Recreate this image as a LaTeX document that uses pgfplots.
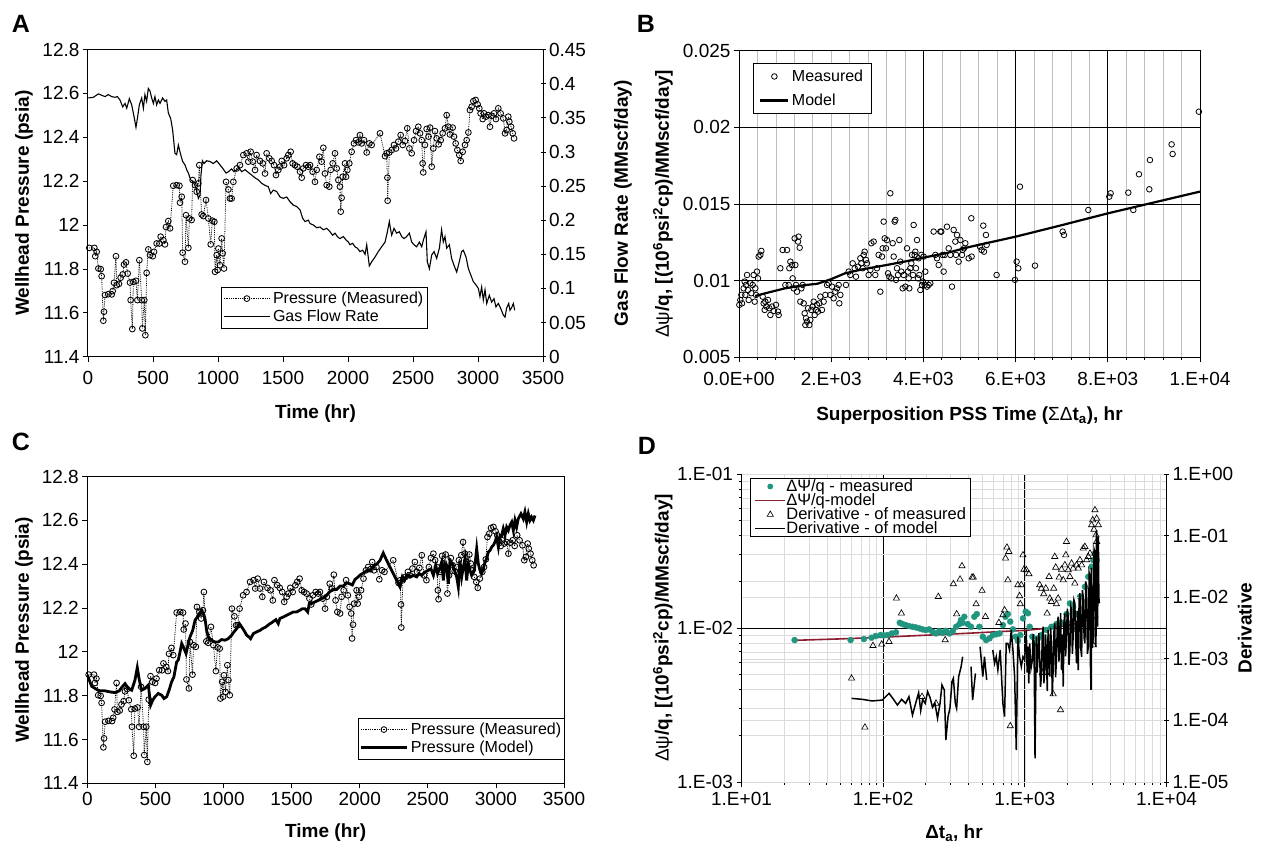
\documentclass[border=0pt]{standalone}
\usepackage{fontspec}
\setmainfont{Liberation Sans}
\usepackage{pgfplots}
\usepackage{pgfplotstable}
\pgfplotsset{compat=1.18}

\definecolor{teal2}{RGB}{32,150,128}
\definecolor{dred}{RGB}{140,28,48}

\newcommand{\tf}{\fontsize{19}{19}\selectfont}
\newcommand{\lf}{\fontsize{19}{19}\selectfont\bfseries}
\newcommand{\gf}{\fontsize{16}{17}\selectfont}

\pgfplotsset{
  base/.style={scale only axis, anchor=south west,
    axis line style={line width=1pt},
    tick style={line width=0.8pt, black},
    major tick length=5pt, minor tick length=3pt,
    tick align=outside,
    tick label style={font=\tf},
    label style={font=\lf},
    scaled ticks=false,
    legend cell align=left,
  },
  leg/.style={legend image code/.code={\draw[mark repeat=2,mark phase=2,##1] plot coordinates {(0pt,0pt) (#1/2,0pt) (#1,0pt)};}},
  pstyle/.style={black, densely dotted, line width=0.8pt, mark=o, mark size=2.9pt, mark options={solid, line width=0.85pt}},
}

\pgfplotstableread{
t p
10 11.896
49 11.896
56 11.858
67 11.878
80 11.802
98 11.799
105 11.767
118 11.564
123 11.605
131 11.681
156 11.685
182 11.684
190 11.699
200 11.737
215 11.858
221 11.726
238 11.732
251 11.760
267 11.775
277 11.820
292 11.830
305 11.779
323 11.738
328 11.658
341 11.526
349 11.741
369 11.746
380 11.658
395 11.840
413 11.658
418 11.529
433 11.658
441 11.498
451 11.782
464 11.889
477 11.863
498 11.858
508 11.878
528 11.916
549 11.916
559 11.947
580 11.931
592 11.912
600 11.991
618 12.018
631 11.985
656 12.179
682 12.182
703 12.179
708 12.102
721 12.129
728 11.874
746 11.833
754 12.045
772 11.896
780 12.030
797 12.023
805 12.205
823 12.182
836 12.152
849 12.190
856 12.273
874 12.048
887 12.041
908 12.114
926 12.030
944 11.912
956 12.020
972 12.015
977 11.787
990 11.863
997 11.795
1003 11.893
1015 11.817
1028 11.939
1036 11.871
1046 11.802
1062 12.197
1080 12.162
1092 12.121
1105 12.121
1118 12.197
1144 12.258
1169 12.273
1195 12.319
1221 12.327
1233 12.289
1251 12.334
1267 12.289
1285 12.251
1297 12.319
1323 12.292
1344 12.281
1362 12.235
1374 12.327
1395 12.304
1413 12.292
1431 12.273
1446 12.228
1464 12.251
1477 12.266
1490 12.292
1508 12.273
1528 12.304
1541 12.319
1559 12.334
1574 12.281
1592 12.273
1610 12.266
1631 12.243
1644 12.216
1656 12.258
1677 12.273
1695 12.266
1708 12.273
1728 12.243
1746 12.197
1759 12.251
1780 12.311
1797 12.289
1810 12.352
1823 12.235
1836 12.182
1856 12.175
1867 12.251
1882 12.281
1900 12.327
1913 12.258
1926 12.205
1938 12.175
1944 12.061
1951 12.124
1959 12.220
1977 12.281
1985 12.220
1995 12.251
2010 12.281
2028 12.334
2046 12.372
2062 12.387
2079 12.377
2092 12.410
2105 12.372
2123 12.387
2144 12.331
2164 12.372
2182 12.365
2246 12.418
2285 12.314
2297 12.327
2303 12.216
2305 12.111
2318 12.331
2336 12.342
2354 12.365
2369 12.349
2387 12.380
2405 12.410
2421 12.365
2438 12.383
2456 12.441
2472 12.349
2490 12.327
2508 12.387
2523 12.428
2541 12.448
2554 12.418
2567 12.387
2574 12.281
2579 12.240
2592 12.365
2605 12.438
2620 12.403
2631 12.444
2644 12.266
2656 12.349
2669 12.428
2682 12.395
2697 12.368
2713 12.387
2728 12.418
2746 12.441
2759 12.501
2772 12.448
2784 12.413
2805 12.444
2815 12.403
2828 12.372
2841 12.342
2856 12.319
2867 12.292
2882 12.334
2900 12.365
2913 12.387
2926 12.422
2938 12.524
2951 12.539
2964 12.565
2982 12.570
2997 12.550
3010 12.532
3020 12.509
3036 12.483
3046 12.509
3061 12.494
3079 12.501
3092 12.448
3105 12.498
3123 12.509
3138 12.483
3156 12.532
3174 12.509
3195 12.486
3208 12.418
3220 12.433
3233 12.494
3241 12.471
3254 12.448
3267 12.418
3277 12.395
}\pressure

\pgfplotstableread{
t q
2 0.379
41 0.380
80 0.385
105 0.383
131 0.381
156 0.384
182 0.381
208 0.380
226 0.381
246 0.376
267 0.366
285 0.371
298 0.364
318 0.378
336 0.369
354 0.352
369 0.336
380 0.349
395 0.369
413 0.379
426 0.364
438 0.384
451 0.374
464 0.393
477 0.389
490 0.379
503 0.371
515 0.381
528 0.369
541 0.376
554 0.371
574 0.379
592 0.374
605 0.376
618 0.357
636 0.349
651 0.332
669 0.298
682 0.296
695 0.310
713 0.296
728 0.286
746 0.281
759 0.274
772 0.269
790 0.259
810 0.256
831 0.247
849 0.232
862 0.237
869 0.266
880 0.287
892 0.283
913 0.287
938 0.286
964 0.283
990 0.287
1015 0.281
1036 0.276
1062 0.269
1080 0.271
1105 0.275
1123 0.271
1144 0.274
1164 0.276
1182 0.271
1208 0.274
1233 0.270
1259 0.266
1285 0.262
1310 0.259
1336 0.254
1362 0.251
1387 0.249
1405 0.239
1426 0.244
1451 0.242
1477 0.234
1503 0.232
1528 0.234
1554 0.227
1580 0.222
1605 0.220
1631 0.215
1651 0.203
1669 0.198
1695 0.200
1708 0.195
1733 0.193
1759 0.189
1785 0.190
1810 0.186
1836 0.188
1862 0.183
1882 0.178
1900 0.181
1918 0.176
1938 0.173
1964 0.176
1985 0.171
2003 0.168
2015 0.164
2036 0.166
2054 0.161
2072 0.159
2092 0.154
2113 0.156
2131 0.150
2144 0.164
2164 0.133
2182 0.139
2208 0.146
2233 0.154
2259 0.161
2285 0.168
2303 0.183
2318 0.198
2328 0.186
2336 0.178
2354 0.188
2374 0.181
2395 0.183
2413 0.176
2431 0.173
2451 0.176
2472 0.181
2490 0.168
2508 0.164
2528 0.161
2549 0.168
2567 0.161
2580 0.171
2600 0.183
2610 0.139
2626 0.129
2644 0.149
2662 0.154
2682 0.144
2703 0.159
2720 0.186
2733 0.168
2746 0.176
2759 0.159
2780 0.164
2797 0.144
2815 0.134
2836 0.124
2856 0.139
2874 0.154
2887 0.156
2908 0.146
2926 0.129
2944 0.120
2964 0.110
2985 0.105
3003 0.100
3015 0.088
3028 0.102
3041 0.083
3054 0.098
3067 0.078
3087 0.090
3105 0.080
3123 0.085
3138 0.073
3156 0.078
3174 0.071
3195 0.061
3208 0.058
3220 0.071
3236 0.078
3246 0.068
3259 0.072
3272 0.078
3282 0.068
}\flow

\pgfplotstableread{
t p
0 11.894
32 11.843
69 11.828
93 11.822
130 11.822
167 11.817
203 11.814
235 11.822
252 11.837
277 11.855
301 11.833
326 11.825
350 11.871
367 11.928
382 11.871
399 11.825
424 11.833
448 11.848
465 11.757
480 11.779
497 11.795
521 11.810
546 11.802
563 11.787
583 11.795
602 11.828
619 11.863
636 11.886
656 11.954
668 11.962
681 12.000
693 12.038
705 12.023
725 11.992
742 12.038
754 12.068
774 12.098
791 12.144
808 12.159
822 12.174
840 12.190
852 12.174
864 12.152
876 12.098
888 12.068
913 12.053
937 12.045
962 12.045
986 12.056
1011 12.053
1035 12.060
1060 12.076
1077 12.091
1097 12.106
1116 12.129
1133 12.114
1150 12.098
1170 12.076
1187 12.068
1199 12.060
1219 12.083
1243 12.091
1268 12.098
1287 12.106
1312 12.114
1336 12.126
1361 12.136
1385 12.147
1402 12.129
1414 12.152
1439 12.159
1464 12.167
1488 12.174
1513 12.182
1537 12.182
1561 12.190
1581 12.197
1598 12.197
1618 12.182
1630 12.220
1647 12.220
1672 12.228
1696 12.235
1720 12.243
1745 12.250
1782 12.275
1806 12.285
1831 12.285
1855 12.300
1880 12.300
1904 12.315
1929 12.310
1946 12.305
1965 12.330
1985 12.340
2002 12.350
2027 12.360
2051 12.370
2076 12.370
2100 12.390
2125 12.400
2149 12.417
2173 12.451
2198 12.417
2222 12.387
2247 12.357
2271 12.326
2296 12.296
2313 12.342
2328 12.326
2345 12.349
2369 12.342
2394 12.349
2418 12.342
2435 12.357
2455 12.349
2479 12.364
2504 12.372
2523 12.379
2541 12.349
2558 12.395
2572 12.357
2590 12.387
2602 12.410
2614 12.326
2626 12.402
2638 12.395
2651 12.311
2663 12.417
2680 12.402
2695 12.372
2712 12.342
2724 12.296
2736 12.417
2749 12.342
2761 12.387
2773 12.425
2785 12.326
2798 12.402
2810 12.372
2822 12.349
2842 12.372
2859 12.471
2871 12.402
2883 12.372
2895 12.357
2908 12.379
2920 12.410
2932 12.425
2944 12.455
2957 12.463
2969 12.478
2981 12.486
2993 12.501
3005 12.524
3018 12.478
3030 12.531
3042 12.531
3054 12.562
3067 12.531
3079 12.569
3091 12.554
3103 12.577
3116 12.592
3128 12.554
3140 12.600
3152 12.569
3164 12.607
3184 12.630
3201 12.607
3213 12.638
3226 12.592
3238 12.630
3250 12.600
3262 12.615
3275 12.600
3287 12.622
}\modelC

\pgfplotstableread{
x y
7 0.00842
29 0.00874
51 0.00907
65 0.00852
101 0.00950
123 0.00994
137 0.00907
152 0.00972
174 0.01037
195 0.00939
210 0.00874
246 0.00983
268 0.00918
296 0.00972
318 0.01037
340 0.00863
354 0.00950
369 0.00907
390 0.01059
412 0.01015
427 0.01157
463 0.01168
484 0.01194
513 0.00896
535 0.00852
557 0.00809
571 0.00863
593 0.00831
629 0.00874
658 0.00820
680 0.00776
716 0.00831
752 0.00802
803 0.00842
846 0.00798
860 0.00776
897 0.01081
947 0.01200
1005 0.00972
1041 0.01200
1077 0.00972
1092 0.01081
1113 0.01124
1150 0.01102
1164 0.01015
1186 0.00950
1207 0.01276
1222 0.01102
1236 0.00972
1258 0.00928
1280 0.01255
1294 0.01287
1316 0.01215
1330 0.00863
1352 0.00950
1381 0.00972
1403 0.00852
1424 0.00787
1439 0.00711
1453 0.00755
1475 0.00733
1497 0.00820
1526 0.00711
1547 0.00744
1569 0.00809
1598 0.00831
1620 0.00863
1641 0.00776
1670 0.00809
1692 0.00842
1714 0.00798
1743 0.00852
1764 0.00896
1800 0.00809
1836 0.00863
1873 0.00907
1909 0.00972
1945 0.00983
1981 0.00907
2017 0.00961
2053 0.00885
2090 0.00928
2126 0.00950
2162 0.00972
2176 0.00852
2198 0.00907
2321 0.00972
2379 0.01059
2415 0.01037
2466 0.01113
2509 0.01081
2538 0.01026
2581 0.01091
2632 0.01146
2653 0.01113
2682 0.01081
2704 0.01168
2726 0.01189
2755 0.01135
2776 0.01113
2812 0.01037
2849 0.01070
2870 0.01244
2921 0.01255
2957 0.01037
2993 0.01081
3029 0.01168
3065 0.00928
3102 0.01157
3116 0.01211
3138 0.01385
3160 0.01276
3188 0.01211
3210 0.01265
3232 0.01048
3261 0.01026
3282 0.01570
3304 0.01015
3333 0.01244
3355 0.01157
3376 0.01385
3391 0.01396
3405 0.01005
3427 0.01081
3449 0.01037
3478 0.01265
3499 0.01124
3521 0.01059
3550 0.00950
3572 0.01037
3608 0.00961
3644 0.01211
3666 0.01059
3680 0.01015
3694 0.00950
3716 0.01081
3738 0.01113
3752 0.01168
3774 0.01037
3788 0.01363
3810 0.01168
3825 0.01189
3839 0.01081
3861 0.01265
3883 0.01015
3897 0.01146
3911 0.01037
3933 0.00939
3955 0.01168
3969 0.00972
3984 0.00994
4005 0.01157
4027 0.00972
4041 0.01059
4078 0.00961
4114 0.00972
4150 0.00983
4222 0.01320
4258 0.01168
4295 0.01146
4331 0.01102
4367 0.01320
4388 0.01320
4417 0.01168
4439 0.01059
4461 0.01168
4511 0.01352
4548 0.01211
4584 0.01168
4620 0.00961
4656 0.01331
4692 0.01255
4707 0.01168
4728 0.01298
4764 0.01124
4801 0.01265
4837 0.01168
4851 0.01200
4880 0.01211
4909 0.01244
4981 0.01146
5039 0.01407
5046 0.01157
5227 0.01222
5263 0.01200
5299 0.01359
5314 0.01189
5357 0.01298
5371 0.01233
5588 0.01037
5986 0.01005
6022 0.01124
6058 0.01081
6094 0.01613
6420 0.01098
7020 0.01320
7049 0.01298
7577 0.01461
8032 0.01548
8061 0.01570
8444 0.01574
8553 0.01461
8676 0.01694
8900 0.01596
8914 0.01787
9384 0.01889
9406 0.01826
9975 0.02102
}\Bmeas

\pgfplotstableread{
x y
350 0.0090
600 0.0092
1000 0.0095
1400 0.0097
1700 0.0098
2000 0.0101
2300 0.01048
2700 0.01075
3200 0.01102
3600 0.01125
4000 0.0115
4500 0.0118
5000 0.0122
6000 0.01287
7000 0.01362
8000 0.01439
9000 0.01510
10000 0.01581
}\Bmodel

\pgfplotstableread{
x y
23.7 0.00835
58.9 0.00835
73.2 0.00848
82.8 0.00865
88.4 0.00887
95.9 0.00900
101 0.00895
107 0.00900
115 0.00922
123 0.00937
131 0.01082
137 0.01061
144 0.01045
152 0.01030
161 0.01019
170 0.01009
180 0.00995
190 0.00980
200 0.00971
211 0.00980
223 0.00946
236 0.00922
249 0.00955
263 0.00931
277 0.00960
293 0.00922
310 0.00955
327 0.01019
345 0.01061
354 0.01127
364 0.01082
374 0.01184
395 0.01061
417 0.01019
440 0.01184
458 0.01232
478 0.01019
505 0.00878
533 0.00835
563 0.00857
594 0.00900
628 0.00910
663 0.00922
700 0.01045
731 0.01184
759 0.01232
789 0.01101
824 0.00980
861 0.00878
893 0.00826
929 0.00900
970 0.01155
1014 0.01277
1052 0.01247
1082 0.01019
1130 0.00878
1175 0.00794
1239 0.00857
1309 0.00900
1419 0.00971
1541 0.01019
1671 0.01061
1815 0.01082
1968 0.01232
2080 0.01445
2193 0.01374
2317 0.01232
2449 0.01596
2655 0.01853
2805 0.02152
2958 0.02499
3041 0.02760
3126 0.03052
3214 0.02760
}\Dgreen

\pgfplotstableread{
x y
23.7 0.00832
50 0.00850
100 0.00872
200 0.00898
400 0.00925
700 0.00950
1000 0.00965
1500 0.0100
2000 0.0104
2500 0.0109
3000 0.0115
3300 0.0118
}\Dmodel

\pgfplotstableread{
x y
59.8 4.82e-4
74.3 7.73e-5
84.7 1.63e-3
97.6 1.72e-3
110 1.90e-3
124 9.59e-3
134.5 5.47e-3
188 2.43e-4
236 1.89e-4
245 1.02e-2
274 2.02e-3
313 1.64e-2
330 5.33e-3
349 1.95e-2
360 3.21e-2
424 2.10e-2
433 2.10e-2
453 7.76e-3
499 1.28e-2
527 4.83e-3
656 3.86e-3
700 5.14e-3
719 6.19e-3
731 4.28e-2
747 6.45e-2
759 1.90e-2
771 5.49e-2
789 8.11e-5
893 1.58e-2
918 1.05e-2
929 7.76e-3
944 1.58e-2
970 4.84e-2
986 2.83e-2
1024 2.77e-2
1069 2.38e-2
1273 1.58e-2
1309 1.39e-2
1331 5.96e-4
1359 1.13e-2
1405 1.39e-2
1405 5.96e-4
1436 5.47e-3
1483 2.15e-2
1500 9.59e-3
1541 8.47e-3
1584 2.68e-4
1600 1.39e-2
1626 4.55e-2
1652 3.05e-2
1671 7.76e-3
1718 9.59e-3
1746 2.10e-2
1786 1.48e-4
1815 2.83e-2
1866 1.90e-2
1916 3.33e-2
1947 4.84e-2
1968 7.98e-2
2023 2.77e-2
2080 2.15e-2
2138 3.55e-2
2193 2.94e-2
2254 1.68e-2
2317 3.33e-2
2382 2.94e-2
2449 4.02e-2
2517 3.33e-2
2582 6.21e-2
2655 6.61e-2
2729 4.02e-2
2805 4.55e-2
2884 5.15e-2
2958 0.1486
3013 0.179
3041 1.67e-3
3076 0.126
3126 0.261
3126 5.15e-2
3177 0.102
3214 0.190
3214 7.98e-2
3304 0.149
}\Dtri

\pgfplotstableread{
x y
59.8 2.28e-4
71.1 2.20e-4
83.7 2.07e-4
98.6 2.14e-4
110 2.75e-4
117 2.28e-4
126 1.78e-4
135 2.20e-4
144 1.89e-4
152 2.43e-4
161 1.22e-4
170 1.94e-4
178 2.82e-4
184 1.44e-4
190 2.20e-4
198 1.89e-4
206 2.93e-4
214 2.37e-4
223 1.63e-4
232 1.89e-4
242 1.08e-4
252 1.89e-4
260 3.76e-4
270 3.12e-4
277 4.81e-5
287 1.15e-4
296 1.57e-4
306 4.26e-4
313 4.82e-4
323 1.89e-4
330 1.57e-4
341 5.13e-4
355 7.46e-4
364 1.08e-3
nan nan
417 7.46e-4
428 2.14e-4
448 5.81e-4
nan nan
483 1.57e-3
505 5.13e-4
519 1.08e-3
538 4.53e-4
nan nan
594 1.39e-3
611 8.45e-4
628 1.08e-3
645 6.58e-4
670 1.39e-3
700 1.89e-4
719 1.15e-4
739 1.78e-3
759 1.78e-3
780 1.39e-3
802 2.94e-3
824 1.39e-3
847 5.13e-4
870 3.31e-5
893 2.29e-3
918 1.08e-3
944 7.46e-4
970 1.08e-3
997 9.57e-4
1024 2.94e-3
1038 6e-4
1052 1.57e-3
1066 4e-4
1082 1.78e-3
1105 7e-4
1130 9.57e-4
1145 2.5e-3
1161 1.78e-3
1180 2.42e-5
1205 2.29e-3
1222 6e-4
1239 1.08e-3
1256 2.6e-3
1273 1.08e-3
1290 3.5e-4
1309 5.13e-4
1327 2.2e-3
1346 3.33e-3
1363 4e-4
1381 6.58e-4
1400 2.5e-3
1419 1.23e-3
1440 3e-4
1459 2.94e-3
1480 1.2e-3
1500 5.13e-4
1520 3.2e-3
1541 1.78e-3
1562 2.5e-4
1584 6.58e-4
1605 2.8e-3
1626 3.77e-3
1648 5e-4
1671 9.57e-4
1695 3.5e-3
1718 4.83e-3
1740 9e-4
1766 2.02e-3
1790 5.5e-3
1815 6.58e-4
1840 2.5e-3
1866 3.53e-4
1890 4e-3
1916 5.47e-3
1940 1.1e-3
1968 2.29e-3
1995 6.5e-3
2023 4.83e-3
2050 8e-4
2080 1.39e-3
2110 7e-3
2138 6.19e-3
2165 1.2e-3
2193 2.29e-3
2222 9e-3
2254 7.96e-3
2285 2e-3
2317 8.45e-4
2350 6e-3
2382 6.58e-4
2415 9e-3
2449 1.16e-2
2480 1.5e-3
2517 1.08e-3
2550 1.3e-2
2582 1.02e-2
2620 2.2e-3
2655 1.78e-3
2690 1.8e-2
2729 1.48e-2
2765 1.2e-3
2805 1.57e-3
2845 2.5e-2
2884 2.15e-2
2905 8e-4
2931 3.12e-4
2945 3e-2
2958 2.77e-2
3000 1.5e-3
3041 2.29e-3
3080 6e-2
3126 5.15e-2
3150 2e-3
3177 1.57e-3
3195 0.1
3214 0.123
3240 4e-3
3266 3.33e-3
3285 0.08
3304 9.62e-2
3330 1e-2
3357 7.96e-3
}\Dline

\begin{document}
\begin{tikzpicture}
\path[use as bounding box] (0pt,0pt) rectangle (1263pt,-847pt);

% ---------------- Panel A ----------------
\begin{axis}[base, at={(88pt,-356.7pt)}, width=455pt, height=307.2pt,
  xmin=0, xmax=3500, ymin=11.4, ymax=12.8,
  axis y line*=left, xtick pos=left, xticklabel shift=6pt,
  xtick={0,500,1000,1500,2000,2500,3000,3500},
  xticklabels={0,500,1000,1500,2000,2500,3000,3500},
  ytick={11.4,11.6,11.8,12,12.2,12.4,12.6,12.8},
  yticklabels={11.4,11.6,11.8,12,12.2,12.4,12.6,12.8},
  xlabel={Time (hr)}, ylabel={Wellhead Pressure (psia)},
  xlabel style={at={(axis description cs:0.5,-0.185)},anchor=center},
  ylabel style={at={(axis description cs:-0.141,0.5)},anchor=center},
]
\addplot[pstyle] table[x=t,y=p] {\pressure};
\end{axis}
\begin{axis}[base, at={(88pt,-356.7pt)}, width=455pt, height=307.2pt,
  xmin=0, xmax=3500, ymin=0, ymax=0.45,
  axis x line=none, axis y line*=right, tick align=center,
  ytick={0,0.05,0.1,0.15,0.2,0.25,0.3,0.35,0.4,0.45},
  yticklabels={0,0.05,0.1,0.15,0.2,0.25,0.3,0.35,0.4,0.45},
  ylabel={Gas Flow Rate (MMscf/day)},
  ylabel style={at={(axis description cs:1.176,0.5)},anchor=center},
  leg=46pt,
  legend style={at={(axis description cs:0.292,0.227)}, anchor=north west,
    draw=black, line width=0.9pt, font=\gf, inner xsep=2pt, inner ysep=2pt,
    nodes={inner sep=2.6pt}},
]
\addlegendimage{pstyle}
\addlegendentry{Pressure (Measured)}
\addplot[black, line width=1.1pt] table[x=t,y=q] {\flow};
\addlegendentry{Gas Flow Rate}
\end{axis}

% ---------------- Panel B ----------------
\begin{axis}[base, at={(739pt,-357.3pt)}, width=461pt, height=306.6pt,
  xmin=0, xmax=10000, ymin=0.005, ymax=0.025,
  xtick pos=left, ytick pos=left, xticklabel shift=6pt,
  xtick={0,2000,4000,6000,8000,10000},
  xticklabels={0.0E+00,2.E+03,4.E+03,6.E+03,8.E+03,1.E+04},
  ytick={0.005,0.01,0.015,0.02,0.025},
  yticklabels={0.005,0.01,0.015,0.02,0.025},
  minor x tick num=4,
  xmajorgrids, xminorgrids,
  major grid style={gray!50, line width=0.7pt},
  minor grid style={gray!50, line width=0.7pt},
  extra x ticks={4000,6000,8000}, extra x tick labels={},
  extra x tick style={grid=major, major grid style={black, line width=1pt}},
  extra y ticks={0.01,0.015,0.02}, extra y tick labels={},
  extra y tick style={grid=major, major grid style={black, line width=1pt}},
  xlabel={Superposition PSS Time ({\mdseries ΣΔ}t\textsubscript{a}), hr},
  ylabel={{\mdseries Δψ}/q, [(10\textsuperscript{6}psi\textsuperscript{2}cp)/MMscf/day]},
  xlabel style={at={(axis description cs:0.5,-0.19)},anchor=center},
  ylabel style={at={(axis description cs:-0.165,0.5)},anchor=center},
  leg=28pt,
  legend style={at={(axis description cs:0.03,0.96)}, anchor=north west,
    draw=black, line width=0.9pt, font=\gf, inner xsep=6pt, inner ysep=4pt,
    nodes={inner sep=2.5pt}, row sep=6pt},
]
\addplot[only marks, black, mark=o, mark size=2.8pt, mark options={line width=0.8pt}] table {\Bmeas};
\addlegendentry{Measured}
\addplot[black, line width=2.2pt] table {\Bmodel};
\addlegendentry{Model}
\end{axis}

% ---------------- Panel C ----------------
\begin{axis}[base, at={(87.3pt,-783.3pt)}, width=476.7pt, height=306.8pt,
  xmin=0, xmax=3500, ymin=11.4, ymax=12.8,
  xtick pos=left, ytick pos=left,
  xtick={0,500,1000,1500,2000,2500,3000,3500},
  xticklabels={0,500,1000,1500,2000,2500,3000,3500},
  ytick={11.4,11.6,11.8,12,12.2,12.4,12.6,12.8},
  yticklabels={11.4,11.6,11.8,12,12.2,12.4,12.6,12.8},
  xlabel={Time (hr)}, ylabel={Wellhead Pressure (psia)},
  xlabel style={at={(axis description cs:0.5,-0.162)},anchor=center},
  ylabel style={at={(axis description cs:-0.133,0.5)},anchor=center},
  leg=46pt,
  legend style={at={(axis description cs:0.568,0.213)}, anchor=north west,
    draw=black, line width=0.9pt, font=\gf, inner xsep=1pt, inner ysep=2pt,
    nodes={inner sep=2.6pt}},
]
\addplot[pstyle] table[x=t,y=p] {\pressure};
\addlegendentry{Pressure (Measured)}
\addplot[black, line width=2.8pt] table[x=t,y=p] {\modelC};
\addlegendentry{Pressure (Model)}
\end{axis}

% ---------------- Panel D ----------------
\begin{axis}[base, at={(741.5pt,-782pt)}, width=425pt, height=308pt,
  xmode=log, ymode=log, xmin=10, xmax=10000, ymin=0.001, ymax=0.1,
  axis y line*=left, xtick pos=left, xticklabel shift=2pt,
  xtick={10,100,1000,10000}, xticklabels={1.E+01,1.E+02,1.E+03,1.E+04},
  ytick={0.001,0.01,0.1}, yticklabels={1.E-03,1.E-02,1.E-01},
  xmajorgrids, xminorgrids, ymajorgrids, yminorgrids,
  major grid style={black, line width=0.9pt},
  minor grid style={gray!28, line width=0.6pt},
  xlabel={Δt\textsubscript{a}, hr},
  ylabel={{\mdseries Δψ}/q, [(10\textsuperscript{6}psi\textsuperscript{2}cp)/MMscf/day]},
  xlabel style={at={(axis description cs:0.5,-0.166)},anchor=center},
  ylabel style={at={(axis description cs:-0.185,0.5)},anchor=center},
]
\addplot[only marks, mark=*, mark size=3pt, teal2, mark options={draw=teal2, fill=teal2}] table {\Dgreen};
\addplot[dred, line width=1.6pt] table {\Dmodel};
\end{axis}
\begin{axis}[base, at={(741.5pt,-782pt)}, width=425pt, height=308pt,
  xmode=log, ymode=log, xmin=10, xmax=10000, ymin=1e-5, ymax=1,
  axis x line=none, axis y line*=right, tick align=center, yminorticks=false,
  unbounded coords=jump,
  ytick={1e-5,1e-4,1e-3,1e-2,1e-1,1},
  yticklabels={1.E-05,1.E-04,1.E-03,1.E-02,1.E-01,1.E+00},
  ymajorgrids, major grid style={gray!28, line width=0.6pt},
  ylabel={Derivative},
  ylabel style={at={(axis description cs:1.184,0.5)},anchor=center},
  leg=30pt,
  legend style={at={(axis description cs:0.02,0.987)}, anchor=north west,
    draw=black, line width=0.9pt, font=\fontsize{16.5}{16.5}\selectfont,
    inner xsep=4pt, inner ysep=1pt, nodes={inner sep=0.3pt}},
]
\addlegendimage{only marks, mark=*, mark size=2.4pt, teal2, mark options={draw=teal2, fill=teal2}}
\addlegendentry{ΔΨ/q - measured}
\addlegendimage{dred, line width=1.6pt}
\addlegendentry{ΔΨ/q-model}
\addplot[only marks, black, mark=triangle, mark size=3.6pt, mark options={line width=0.65pt}] table {\Dtri};
\addlegendentry{Derivative - of measured}
\addplot[black, line width=1.5pt] table {\Dline};
\addlegendentry{Derivative - of model}
\end{axis}

% ---------------- Panel letters ----------------
\node[font=\fontsize{25}{25}\selectfont\bfseries] at (21pt,-24pt) {A};
\node[font=\fontsize{25}{25}\selectfont\bfseries] at (646pt,-24pt) {B};
\node[font=\fontsize{25}{25}\selectfont\bfseries] at (21pt,-442pt) {C};
\node[font=\fontsize{25}{25}\selectfont\bfseries] at (647pt,-446pt) {D};
\end{tikzpicture}
\end{document}
